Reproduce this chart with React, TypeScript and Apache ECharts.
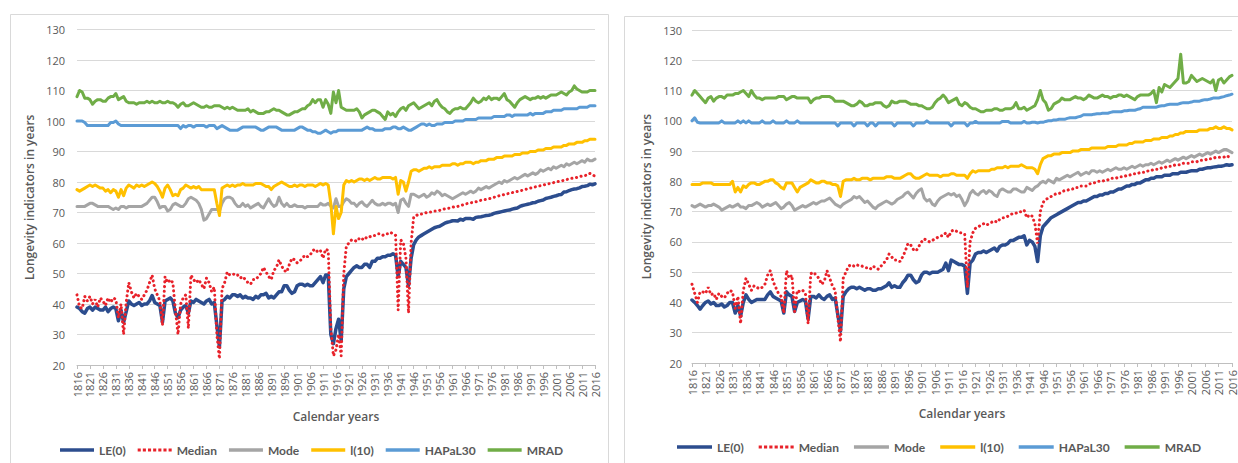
import React, { useEffect, useRef } from "react";
import * as echarts from "echarts";

const years: string[] = [];
for (let y = 1816; y <= 2016; y++) years.push(String(y));

const seriesNames = ["LE(0)", "Median", "Mode", "l(10)", "HAPaL30", "MRAD"];
const yTicks = { min: 20, max: 130, interval: 10 };

// ---------- Left panel ----------
const leLeft = [
  39, 38.5, 37.5, 37, 38.5, 39, 38, 39, 38.5, 38,
  38, 39, 37.5, 38.5, 39, 38.5, 34.5, 38, 34, 37.5,
  41, 40, 39.5, 40, 40.5, 39.5, 40, 40, 41, 42.8,
  40.5, 40, 39.5, 34, 41, 41.5, 42, 41, 37, 35.5,
  38, 39, 39.5, 37, 41, 40.5, 41.5, 41, 40.5, 40,
  41, 41.5, 40, 40.5, 33, 26, 41, 41.5, 42.5, 42,
  43, 43, 42.5, 43, 42, 42.5, 42, 42, 41.5, 42.5,
  42, 43, 43, 43.5, 42, 42.5, 42, 43, 44, 44,
  46, 46, 44.5, 43.5, 44, 46, 46.5, 46.5, 46, 46.5,
  46, 46, 47, 48, 49, 47, 49.5, 49.5, 30, 27,
  32, 35, 28, 45, 49, 50, 51, 52, 52.5, 52,
  52, 53, 53, 52, 54, 54, 55, 55, 55.5, 55.5,
  56, 56, 56.5, 56, 49, 54, 53, 52, 46, 55,
  59.5, 61, 62, 62.5, 63, 63.5, 64, 64.5, 65, 65.3,
  65.5, 66, 66.5, 66.8, 67, 67.3, 67.3, 67.2, 67.8, 67.5,
  68, 68, 68, 67.8, 68.4, 68.5, 68.6, 68.8, 69, 69.1,
  69.3, 69.7, 69.9, 70.1, 70.3, 70.5, 70.7, 70.8, 71.1, 71.3,
  71.5, 72, 72.3, 72.5, 72.7, 72.9, 73.2, 73.3, 73.7, 73.9,
  74.1, 74.6, 74.8, 75, 75.3, 75.5, 75.8, 75.9, 76.7, 76.8,
  77.2, 77.5, 77.7, 77.8, 78.1, 78.5, 78.6, 78.8, 79.3, 79.1,
  79.4,
];
const medLeft = [
  43, 39, 38.5, 42.5, 41, 42.5, 40, 41.5, 39, 42,
  41, 39.5, 42, 40.5, 42, 41.5, 35.5, 40, 30, 40.5,
  47, 44, 42, 43.5, 42.5, 41.5, 43, 44.5, 47, 49.5,
  45, 43, 41, 33, 49, 47, 48, 47, 38, 30,
  40, 42, 43, 32, 49.5, 48, 47, 48, 46.5, 45,
  48.5, 47, 44, 45.5, 30, 22, 45, 47, 50.5, 49.5,
  49.5, 50, 49.5, 48.5, 49, 48, 47, 46.5, 48, 48,
  49, 50, 52, 50.5, 49, 48, 51, 52, 54.5, 52.5,
  51, 50.5, 53, 55, 54.5, 53.5, 54, 55, 56, 55.5,
  56, 57.5, 58, 57, 57.5, 55, 58, 57.5, 32, 23,
  25, 30, 23, 50, 59, 60, 61, 61, 60.5, 61.5,
  61, 62, 61.5, 62, 62.5, 62.5, 63, 63, 62.5, 63,
  63, 63.5, 63, 62.5, 38, 61, 60, 55, 37, 60,
  68.5, 69, 69.5, 69.5, 69.7, 70, 70.2, 70.2, 70.5, 70.5,
  70.7, 71, 71.2, 71.3, 71.5, 71.7, 72, 72, 72.3, 72.5,
  72.8, 73, 73.2, 73.3, 73.5, 73.8, 74, 74.2, 74.3, 74.5,
  74.7, 75, 75.2, 75.5, 75.7, 75.9, 76.1, 76.3, 76.5, 76.7,
  76.9, 77.1, 77.3, 77.5, 77.8, 78, 78.2, 78.4, 78.6, 78.8,
  79, 79.2, 79.4, 79.6, 79.8, 80, 80.2, 80.3, 80.6, 80.8,
  81, 81.2, 81.3, 81.5, 81.7, 82, 82.1, 82.3, 82.8, 82.5,
  81.8,
];
const modeLeft = [
  72, 72, 72, 72, 72.5, 73, 73, 72.5, 72, 72,
  72, 72, 72, 71.5, 71, 71.5, 71, 72, 72, 71.5,
  72, 72, 72, 72, 72, 72, 72.5, 73, 74, 75,
  75, 73.5, 71.5, 72, 72, 70.5, 71, 72.5, 73, 72.5,
  72, 72, 73, 74.5, 75, 74.5, 74, 73, 71, 67.5,
  68, 69.5, 71, 71, 71, 70.5, 73, 74.5, 75, 75,
  74.5, 73, 72, 72, 73, 72, 72.5, 71.5, 72, 72.5,
  73, 72, 71.5, 73, 74.5, 73, 72, 72.5, 75, 73,
  72, 73, 72, 72, 72.5, 72, 72, 72, 71.5, 72,
  72, 72, 72, 72, 73, 72.5, 72.5, 73, 72, 71.5,
  74.5, 72, 72, 73.5, 74.5, 74, 73, 73, 72, 73,
  73.5, 72.5, 72, 73, 74, 73, 72.5, 72.5, 73, 72.5,
  73, 73, 72.5, 73, 70, 74, 74.5, 73, 72, 76,
  76, 75.5, 75, 75.5, 76, 75, 75.5, 76.5, 76, 77,
  76.5, 75.5, 76, 75.5, 75, 74.5, 75, 75.5, 76, 76.5,
  76, 76.5, 77, 76.5, 77, 78, 77.5, 78, 78.5, 78,
  78.5, 79, 79.5, 80, 79.5, 80.5, 80, 80.5, 81, 81.5,
  81, 81.5, 82, 82.5, 82, 82.5, 83, 82.5, 83, 84,
  83.5, 84, 84.5, 84, 85, 84.5, 85, 85.5, 85, 86,
  85.5, 86, 86.5, 86, 86.5, 87, 86.5, 87.5, 87, 87,
  87.5,
];
const l10Left = [
  77.5, 77, 77.5, 78, 78.5, 79, 78.5, 79, 78.5, 78,
  78, 77, 77.5, 76.5, 77.5, 77, 75, 77.5, 75.5, 78,
  79, 78.5, 78, 79, 78.5, 79, 78.5, 79, 79.5, 80,
  79.5, 78.5, 77, 75, 78, 79, 77.5, 75.5, 76, 75.5,
  77.5, 78, 79, 78.5, 78, 78.5, 78, 78.5, 77.5, 77.5,
  77.5, 77.5, 77.5, 77.5, 73, 69, 78, 78.5, 79, 78.5,
  79, 78.5, 79, 79, 79.5, 79, 79, 79, 79, 79.5,
  79.5, 79.5, 79, 78.5, 78.5, 77.5, 78.5, 79, 79.5, 80,
  79.5, 79, 78.5, 78.5, 79, 78.5, 79, 79, 78.5, 79,
  79, 79, 78.5, 79, 79.5, 79, 79.5, 79, 73, 63,
  72, 68, 70, 79, 80.5, 80, 80.5, 80, 80.5, 81,
  81, 80.5, 81, 80.5, 81, 81.5, 81, 81, 81.5, 81.5,
  81.5, 81.5, 81, 81.5, 76, 80.5, 80, 77, 80, 83.5,
  84, 84, 83.5, 84, 84.5, 84.5, 85, 84.5, 85, 85,
  85, 85.5, 85.5, 85.5, 85.5, 86, 86, 85.5, 86, 86,
  86.5, 86.5, 86.5, 86, 86.5, 86.5, 87, 87, 87, 87.5,
  87.5, 87.5, 88, 88, 88, 88.5, 88.5, 88.5, 88.5, 89,
  89, 89, 89.5, 89.5, 89.5, 90, 90, 90, 90.5, 90.5,
  90.5, 91, 91, 91, 91.5, 91.5, 91.5, 91.5, 92, 92,
  92.5, 92.5, 92.5, 93, 93, 93, 93.5, 93.5, 94, 94,
  94,
];
const hapLeft = [
  100, 100, 100, 99.5, 98.5, 98.5, 98.5, 98.5, 98.5, 98.5,
  98.5, 98.5, 98.5, 99.5, 99.5, 100, 99, 98.5, 98.5, 98.5,
  98.5, 98.5, 98.5, 98.5, 98.5, 98.5, 98.5, 98.5, 98.5, 98.5,
  98.5, 98.5, 98.5, 98.5, 98.5, 98.5, 98.5, 98.5, 98.5, 98.5,
  97.5, 98.5, 98, 98.5, 98.5, 98, 98.5, 98.5, 98.5, 98.5,
  98, 98.5, 98.5, 98.5, 97.5, 98, 98.5, 98, 97.5, 97,
  97, 97, 97, 97.5, 98, 98, 98, 98, 98, 98,
  97.5, 97, 97, 97.5, 98, 98, 98, 98, 97.5, 97,
  97, 97, 97, 97, 97, 97.5, 98, 98, 97.5, 97,
  97, 96.5, 96.5, 96, 96, 96.5, 97, 96.5, 96, 96.5,
  96.5, 97, 97, 97, 97, 97, 97, 97, 97, 97,
  97, 97.5, 98, 97.5, 97.5, 97, 97, 97, 97, 97.5,
  97.5, 97.5, 98, 98, 97.5, 97.5, 98, 97.5, 97, 97,
  97.5, 98, 98.5, 99, 99, 98.5, 99, 98.5, 98.5, 99,
  99, 99, 99.5, 99.5, 99.5, 99.5, 100, 100, 100, 100,
  100.5, 100.5, 100.5, 100.5, 100.5, 101, 101, 101, 101, 101,
  101, 101.5, 101.5, 101.5, 101.5, 101.5, 102, 102, 101.5, 102,
  102, 102, 102, 102, 102, 102.5, 102, 102.5, 102.5, 102.5,
  102.5, 103, 103, 103, 103.5, 103.5, 103.5, 103.5, 104, 104,
  104, 104, 104, 104, 104.5, 104.5, 104.5, 104.5, 105, 105,
  105,
];
const mradLeft = [
  108, 110, 109.5, 107.5, 107.5, 107, 105.5, 106.5, 107, 107,
  106.5, 106.5, 107.5, 108, 108, 109, 107, 107.5, 108, 106.5,
  106, 106, 106, 105.5, 106, 106, 106, 106.5, 106, 106.5,
  106, 106, 106.5, 106, 106, 106.5, 106, 106, 105.5, 104.5,
  105.5, 106, 105, 105, 105.5, 106, 105.5, 105, 104.5, 104.5,
  105, 104.5, 104.5, 105, 105, 105, 104.5, 104, 104.5, 104,
  104.5, 104, 103.5, 103.5, 103.5, 103.5, 104, 103, 103.5, 103,
  102.5, 102.5, 102.5, 103, 103, 103.5, 104, 103.5, 103.5, 103,
  102.5, 102, 102, 102.5, 103, 103, 103.5, 104, 104, 105,
  105.5, 107, 106, 107, 107, 104.5, 107, 105.5, 102.5, 109.5,
  106, 110, 104.5, 104, 103.5, 103.5, 103.5, 103.5, 104, 103,
  101, 102, 102.5, 103, 103.5, 103.5, 103, 102.5, 101.5, 100.5,
  103, 102, 102.5, 101.5, 103, 104, 104.5, 103.5, 105, 105.5,
  106, 105, 104, 104.5, 105, 105.5, 106, 105, 106.5, 107,
  105.5, 104.5, 104, 103, 102.5, 103.5, 104, 104, 104.5, 104,
  104, 105, 106, 107.5, 106.5, 106, 106.5, 107.5, 107, 108,
  107, 107.5, 107.5, 107, 108, 109, 107, 106.5, 105.5, 104.5,
  106, 107, 107.5, 108, 107.5, 107, 107.5, 107.5, 108, 107.5,
  108, 107.5, 108, 108.5, 108.5, 108.5, 109, 109.5, 109, 108.5,
  109.5, 110, 111.5, 110.5, 110, 109.5, 109.5, 109.5, 110, 110,
  110,
];

// ---------- Right panel ----------
const leRight = [
  40.8, 40, 39, 37.8, 39, 40, 40.5, 39.5, 40, 39,
  39, 39.5, 38.5, 39, 40, 40, 36.5, 39, 35.5, 40,
  42.5, 41, 40, 40.5, 41, 41, 41, 41, 42.5, 43.5,
  42, 41.5, 41, 40.5, 36.5, 43.5, 42.5, 42, 37, 40,
  40.5, 41, 40.5, 34.5, 42, 42, 41.5, 42.5, 41.5, 41,
  42, 42.5, 41, 41.5, 36, 30.5, 42, 43.5, 44.5, 45,
  45, 44.5, 45, 44.5, 44, 44.5, 44.5, 44, 44, 44.5,
  44.5, 45, 45.5, 46.5, 45, 45.5, 45, 45, 46.5, 47.5,
  49, 49, 47.5, 46.5, 47, 49, 50, 50, 49.5, 50,
  50, 50, 50.5, 51, 53, 50.5, 54, 53.5, 53, 52.5,
  52.5, 52, 43, 53, 54, 56, 56.5, 56.5, 57, 56.5,
  57, 57.5, 58, 57, 58.5, 59, 59, 59.5, 60.5, 60.5,
  61, 61.5, 61.5, 62, 59, 60.5, 60, 58.5, 53.5, 62,
  65, 66, 67, 68, 68.5, 69, 69.5, 70, 70.5, 71,
  71.5, 72, 72.5, 73, 73, 73.5, 73.5, 74, 74.5, 75,
  75, 75.5, 75.5, 76, 76, 76.5, 76.5, 77, 77.5, 77.5,
  78, 78.5, 78.5, 79, 79, 79.5, 79.5, 80, 80.5, 80.5,
  81, 81, 81.5, 81.5, 81.5, 82, 82, 82, 82.5, 82.5,
  82.5, 83, 83, 83, 83.3, 83.5, 83.5, 83.5, 84, 84,
  84.3, 84.5, 84.5, 84.7, 84.8, 85, 85, 85.2, 85.5, 85.3,
  85.5,
];
const medRight = [
  46, 43, 40, 43.5, 43.5, 43, 45, 42.5, 43, 41,
  43, 42, 41.5, 43, 44, 43.5, 38, 42, 33, 44,
  48, 46, 44, 45.5, 45, 44.5, 45, 46, 49, 50.5,
  47, 45, 43, 42, 36.5, 50.5, 48, 49, 37, 44,
  43.5, 44, 43, 33, 49.5, 50, 49, 48, 46, 47,
  50.5, 48, 45.5, 44, 35, 27, 48, 50, 52, 52.5,
  52, 52.5, 52, 52, 51.5, 51.5, 51, 52, 51.5, 51,
  52, 53, 54, 56, 55, 54, 54, 53.5, 55, 57,
  59.5, 59, 57.5, 57, 58.5, 60, 61, 60.5, 60, 60.5,
  61, 61.5, 62, 62, 63, 61.5, 63.5, 64, 63.5, 63,
  63, 62.5, 45, 60, 63, 64.5, 65, 65.5, 66, 65.5,
  66, 66.5, 67, 66.5, 67.5, 68, 68, 68.5, 69, 69.5,
  69.5, 70, 70, 70.5, 68, 69, 68.5, 66, 59.5, 70,
  73, 74, 74.5, 75, 75.5, 76, 76, 76.5, 77, 77,
  77.5, 77.5, 78, 78, 78.5, 78.5, 78.5, 79, 79.5, 79.5,
  80, 80, 80, 80.5, 80.5, 81, 81, 81, 81.5, 81.5,
  81.5, 82, 82, 82.5, 82.5, 82.5, 83, 83, 83, 83.5,
  83.5, 84, 84, 84, 84.5, 84.5, 85, 85, 85, 85.5,
  85.5, 85.5, 86, 86, 86, 86.5, 86.5, 86.5, 87, 87,
  87, 87.5, 87.5, 87.5, 88, 88, 88, 88, 88.5, 88,
  88,
];
const modeRight = [
  72, 71.5, 72, 72.5, 72, 71.5, 72, 72, 72.5, 72,
  71.5, 70.5, 71, 71.5, 72, 71.5, 72, 72.5, 71.5, 71.5,
  71, 72, 72, 72.5, 73, 72.5, 71.5, 72, 72.5, 72,
  72.5, 73, 72, 71, 71.5, 72.5, 73, 72, 70.5, 71,
  71.5, 72, 71.5, 72, 72.5, 73, 72.5, 73, 73.5, 73.5,
  74, 74.5, 73.5, 72.5, 72, 71.5, 72.5, 73, 73.5, 74,
  75, 74.5, 75, 74, 73, 73.5, 72.5, 71.5, 71, 72,
  72.5, 73, 73.5, 73, 72.5, 73, 74, 74.5, 75, 76,
  76.5, 75.5, 74.5, 76, 77, 77.5, 74.5, 73.5, 74, 72.5,
  72, 73.5, 74.5, 75, 75.5, 76, 75.5, 76, 75, 75.5,
  74, 72, 73.5, 76, 77, 76, 75.5, 76.5, 77, 76,
  77, 76.5, 75.5, 75, 77, 77.5, 77, 76.5, 76.5, 77.5,
  77.5, 77, 76.5, 76.5, 78, 77.5, 77, 78, 78.5, 79.5,
  80, 79.5, 80.5, 80, 79.5, 81, 80.5, 81, 81.5, 82,
  81.5, 82, 82.5, 83, 82, 82.5, 83, 82.5, 83.5, 83.5,
  83, 83.5, 83, 83.5, 84, 83.5, 84, 84.5, 84, 84,
  84.5, 84, 84.5, 85, 84.5, 85, 85.5, 85, 85.5, 85.5,
  86, 85.5, 86, 86.5, 86, 86.5, 87, 86.5, 87, 87.5,
  87, 87.5, 88, 87.5, 88, 88.5, 88, 88.5, 89, 88.5,
  89, 89.5, 89, 89.5, 90, 89.5, 90, 90.5, 90.5, 90,
  89.5,
];
const l10Right = [
  79, 79, 79, 79, 79.5, 79.5, 79.5, 79.5, 79, 79,
  79, 79, 79, 79, 79, 80, 76.5, 78, 76.5, 78.5,
  78, 79, 79.5, 79.5, 79, 79, 79.5, 80, 80, 80.5,
  80.5, 79.5, 79, 78, 77.5, 79.5, 79.5, 79.5, 78, 76.5,
  78, 78.5, 79, 79.5, 80.5, 80, 79.5, 79.5, 80, 80,
  79.5, 79.5, 79, 79, 78.5, 75, 80, 80.5, 80.5, 80.5,
  81, 80.5, 80.5, 81, 81, 81, 80.5, 81, 81, 81,
  81, 81, 81.5, 81.5, 81.5, 81, 81, 81, 81.5, 82,
  82.5, 82.5, 81.5, 81, 81, 81.5, 82, 82.5, 82, 82,
  82, 82, 81.5, 82, 82, 82, 82.5, 82.5, 82, 82,
  82, 82, 81, 82.5, 83.5, 83, 83.5, 83.5, 83.5, 83.5,
  83.5, 84, 84, 84.5, 84.5, 84.5, 85, 84.5, 85, 85,
  85, 85, 85.5, 85, 84.5, 84.5, 84.5, 84, 82.5, 85.5,
  87.5, 88, 88.5, 88.5, 89, 89, 89, 89.5, 89.5, 89.5,
  89.5, 90, 90, 90, 90.5, 90.5, 90.5, 90.5, 91, 91,
  91, 91, 91, 91, 91.5, 91.5, 91.5, 91.5, 92, 92,
  92, 92, 92.5, 92.5, 93, 93, 93, 93, 93.5, 93.5,
  93.5, 94, 94, 94, 94.5, 94.5, 94.5, 95, 95, 95.5,
  95.5, 96, 96, 96.5, 96.5, 96.5, 96.5, 96.5, 97, 97,
  97, 97, 97.5, 97.5, 98, 97.5, 97.5, 98, 97.5, 97.5,
  97,
];
const hapRight = [
  100, 101, 99.5, 99.3, 99.3, 99.3, 99.3, 99.3, 99.3, 99.3,
  99.3, 100, 99.3, 99.3, 99.3, 99.3, 99.3, 100, 99.3, 100,
  99.3, 100, 99.3, 99.3, 99.3, 99.3, 100, 99.3, 99.3, 99.3,
  100, 99.3, 99.3, 99.3, 99.3, 100, 99.3, 99.3, 99.3, 100,
  99.3, 99.3, 99.3, 99.3, 99.3, 99.3, 99.3, 99.3, 99.3, 99.3,
  99.3, 99.3, 99.3, 99.3, 98.3, 99.3, 99.3, 99.3, 99.3, 99.3,
  98.3, 99.3, 99.3, 99.3, 99.3, 98.3, 99.3, 99.3, 98.3, 99.3,
  99.3, 99.3, 99.3, 99.3, 99.3, 98.3, 99.3, 99.3, 99.3, 99.3,
  99.3, 99.3, 98.3, 99.3, 99.3, 99.3, 99.3, 100, 99.3, 99.3,
  99.3, 99.3, 99.3, 99.3, 99.3, 99.3, 98.3, 99.3, 99.3, 99.3,
  99.3, 99.3, 98.3, 99.3, 99.3, 99.8, 99.3, 99.3, 99.3, 99.3,
  99.3, 99.3, 99.3, 99.3, 99.3, 99.8, 99.8, 99.8, 99.3, 99.3,
  99.3, 99.3, 99.3, 99.8, 99.3, 99.3, 99.5, 99.5, 99.3, 99.5,
  99.5, 99.8, 100, 100, 100.3, 100.3, 100.5, 100.5, 100.5, 100.8,
  101, 101, 101, 101.3, 101.5, 102, 102, 102, 102, 102.2,
  102.3, 102.3, 102.5, 102.5, 102.5, 102.8, 103, 103, 103, 103,
  103.3, 103.3, 103.5, 103.5, 103.5, 103.8, 104, 104.5, 104.5, 104.5,
  104.5, 104.5, 104.5, 104.8, 105, 105, 105.3, 105.5, 105.5, 105.5,
  105.5, 105.8, 106, 106, 106, 106.2, 106.5, 106.5, 106.5, 106.8,
  107, 107, 107.2, 107.5, 107.5, 107.5, 107.8, 108, 108.3, 108.5,
  108.8,
];
const mradRight = [
  108.5, 110, 109, 108, 107, 106, 107.5, 108, 106.5, 107.5,
  108, 108, 107.5, 108.5, 108.5, 108.5, 109, 109, 109.5, 110,
  109, 108, 110, 108.5, 107.5, 107.5, 107, 107.5, 107.5, 107.5,
  107.5, 107.5, 108, 108, 108, 107, 107.5, 108, 108, 107.5,
  107.5, 107.5, 107.5, 107.5, 106, 107, 107.5, 107.5, 108, 108,
  108, 108, 107.5, 106.5, 106.5, 106.5, 106.5, 106, 105.5, 105,
  105, 105.5, 106.5, 106, 105, 105, 105.5, 105.5, 106, 106,
  106, 105, 104.5, 105, 106.5, 106, 106, 106.5, 106.5, 106.5,
  106, 105.5, 105.5, 105.5, 105, 105, 104.5, 104, 104, 104.5,
  106, 107, 107.5, 108.5, 107.5, 106, 106.5, 107, 107.5, 105.5,
  105, 106, 105.5, 104.5, 104, 104, 103.5, 103, 103, 103.5,
  103.5, 103.5, 104, 104, 103.5, 103.5, 104, 104, 104, 104.5,
  106, 104, 104, 104.5, 103.5, 104, 104.5, 105, 107, 110,
  107, 106, 103.5, 104, 105.5, 106, 106.5, 107.5, 107, 107,
  107, 107.5, 108, 107.5, 107.5, 107, 107.5, 108.5, 108, 107.5,
  107.5, 108, 108.5, 108, 108, 107.5, 108, 108, 108.5, 108.5,
  108, 108.5, 108, 107.5, 107, 108, 108.5, 108.5, 108.5, 108.5,
  109, 110, 106, 111, 109.5, 112, 111.5, 111, 112, 113,
  114, 122, 112.5, 112.5, 113, 115, 114, 113, 113.5, 114,
  113.5, 113, 112.5, 113.5, 110, 113.5, 114, 112.5, 113.5, 114.5,
  115,
];

const leftData = [leLeft, medLeft, modeLeft, l10Left, hapLeft, mradLeft];
const rightData = [leRight, medRight, modeRight, l10Right, hapRight, mradRight];

const colors = ["#2C4D8E", "#E8222A", "#A5A5A5", "#FFC000", "#5B9BD5", "#70AD47"];
const widths = [3.5, 3, 3, 3, 3, 3];

const FONT = "'Open Sans', 'Noto Sans', sans-serif";
const LFONT = "Lato, 'Open Sans', sans-serif";
const TXT = "#595959";

const DOTS =
  "path://M0,0h3v3h-3z M5,0h3v3h-3z M10,0h3v3h-3z M15,0h3v3h-3z M20,0h3v3h-3z M25,0h3v3h-3z M30,0h3v3h-3z";

function makeSeries(data: number[][], idx: number) {
  return data.map((d, i) => ({
    name: seriesNames[i],
    type: "line",
    xAxisIndex: idx,
    yAxisIndex: idx,
    data: d,
    symbol: "none",
    smooth: false,
    lineStyle:
      i === 1
        ? { color: colors[i], width: 3, type: [0.1, 4.6], cap: "round" }
        : { color: colors[i], width: widths[i], cap: "round", join: "round" },
    itemStyle: { color: colors[i] },
  }));
}

function xAxisCfg(gridIndex: number, gap: number) {
  return {
    type: "category",
    gridIndex,
    data: years,
    boundaryGap: false,
    name: "Calendar years",
    nameLocation: "middle",
    nameGap: gap,
    nameTextStyle: { color: TXT, fontFamily: FONT, fontSize: 12, fontWeight: 600 },
    axisLine: { lineStyle: { color: "#BFBFBF", width: 1 } },
    axisTick: { show: true, interval: 4, length: 4, lineStyle: { color: "#BFBFBF" } },
    axisLabel: {
      interval: 4,
      rotate: 90,
      margin: 7,
      color: TXT,
      fontFamily: FONT,
      fontSize: 11,
    },
    splitLine: { show: false },
  };
}

function yAxisCfg(gridIndex: number, gap: number, labelMargin: number) {
  return {
    type: "value",
    gridIndex,
    min: yTicks.min,
    max: yTicks.max,
    interval: yTicks.interval,
    name: "Longevity indicators in years",
    nameLocation: "middle",
    nameGap: gap,
    nameTextStyle: { color: TXT, fontFamily: FONT, fontSize: 12, fontWeight: 600 },
    axisLine: { show: false },
    axisTick: { show: false },
    axisLabel: { color: TXT, fontFamily: FONT, fontSize: 11, margin: labelMargin },
    splitLine: { lineStyle: { color: "#D9D9D9", width: 1.2 } },
  };
}

function legendCfg(left: number, top: number, gap: number, w: number) {
  return {
    data: seriesNames.map((n, i) => ({
      name: n,
      icon: i === 1 ? DOTS : "rect",
    })),
    left,
    top,
    width: 600,
    padding: 0,
    itemWidth: w,
    itemHeight: 3.5,
    itemGap: gap,
    selectedMode: false,
    textStyle: { color: TXT, fontFamily: LFONT, fontSize: 12, fontWeight: "bold" },
  };
}

export default function App() {
  const ref = useRef<HTMLDivElement>(null);
  useEffect(() => {
    if (!ref.current) return;
    const chart = echarts.init(ref.current, null, { renderer: "svg" });
    chart.setOption({
      animation: false,
      backgroundColor: "#ffffff",
      graphic: [
        {
          type: "rect",
          shape: { x: 10.5, y: 14.5, width: 598, height: 470 },
          style: { fill: "none", stroke: "#D9D9D9", lineWidth: 1 },
          silent: true,
        },
        {
          type: "rect",
          shape: { x: 624.5, y: 16.5, width: 640, height: 470 },
          style: { fill: "none", stroke: "#D9D9D9", lineWidth: 1 },
          silent: true,
        },
      ],
      legend: [legendCfg(60, 444, 12, 34), legendCfg(677, 441, 15, 35)],
      grid: [
        { left: 77, right: 643, top: 29.5, bottom: 98, containLabel: false },
        { left: 692, right: 6, top: 30, bottom: 100, containLabel: false },
      ],
      xAxis: [xAxisCfg(0, 45), xAxisCfg(1, 44)],
      yAxis: [yAxisCfg(0, 42, 12), yAxisCfg(1, 40, 10)],
      series: [...makeSeries(leftData, 0), ...makeSeries(rightData, 1)],
    });
    return () => chart.dispose();
  }, []);
  return (
    <div
      ref={ref}
      style={{ position: "absolute", left: 0, top: 0, width: 1238, height: 463 }}
    />
  );
}
